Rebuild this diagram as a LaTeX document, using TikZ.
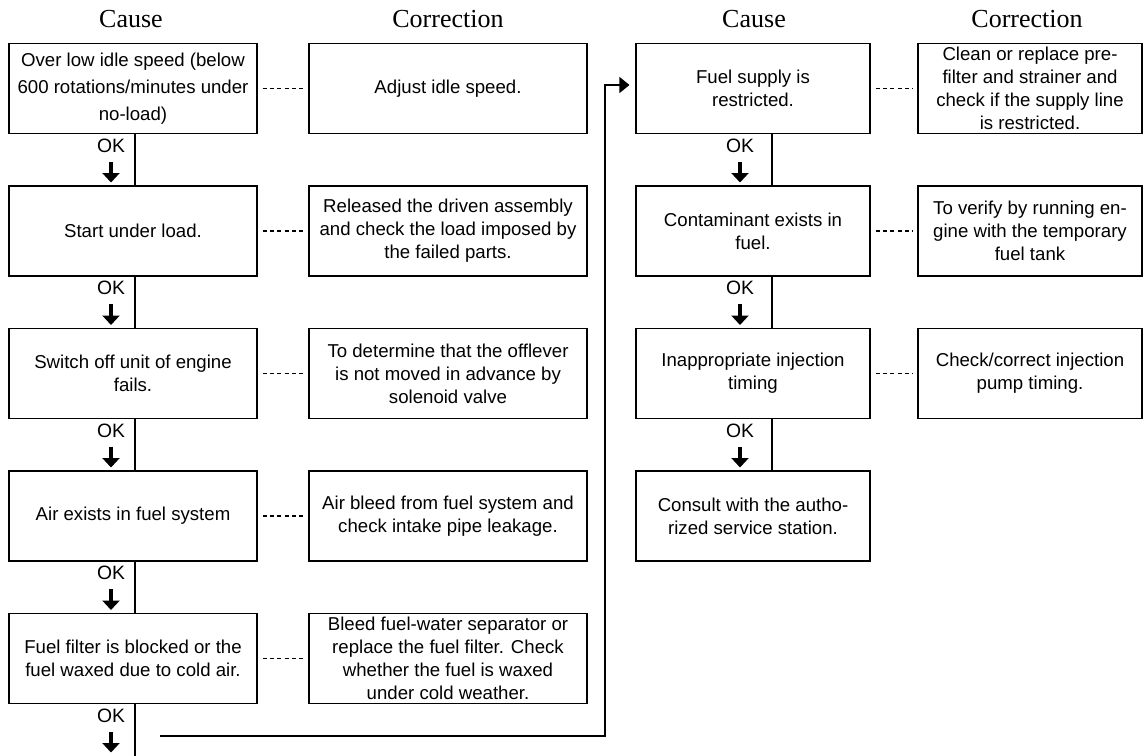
\documentclass[tikz,border=0pt]{standalone}
\usepackage{fontspec}
\setmainfont{Liberation Serif}
\setsansfont{Liberation Sans}
\usetikzlibrary{arrows.meta}

\begin{document}
\begin{tikzpicture}[
  box/.style={draw, line width=0.6pt, minimum width=#1, minimum height=1.8cm,
    inner xsep=2pt, inner ysep=1pt, align=center,
    font=\sffamily\fontsize{10.6}{13}\selectfont},
  head/.style={anchor=base, font=\fontsize{14.8}{17}\selectfont},
  ok/.style={font=\sffamily\fontsize{11}{12}\selectfont},
  okarrow/.style={line width=0.09cm, -{Triangle[width=0.34cm,length=0.19cm]}},
  flow/.style={line width=0.6pt},
  link/.style={line width=0.75pt, dash pattern=on 2.3pt off 1.9pt,
    shorten <=0.1cm, shorten >=0.08cm}
]

\useasboundingbox (0,0) rectangle (22.9,-15.1);

% Column headings
\node[head] (h1) at (2.62,-0.56) {Cause};
\node[head] (h2) at (8.96,-0.56) {Correction};
\node[head] (h3) at (15.08,-0.56) {Cause};
\node[head] (h4) at (20.54,-0.56) {Correction};

% Left column - causes
\node[box=4.96cm] (lc1) at (2.66,-1.77) {Over low idle speed (below\\[2.5pt]600 rotations/minutes under\\[2.5pt]no-load)};
\node[box=4.96cm] (lc2) at (2.66,-4.62) {Start under load.};
\node[box=4.96cm] (lc3) at (2.66,-7.47) {Switch off unit of engine\\fails.};
\node[box=4.96cm] (lc4) at (2.66,-10.32) {Air exists in fuel system};
\node[box=4.96cm] (lc5) at (2.66,-13.17) {Fuel filter is blocked or the\\fuel waxed due to cold air.};

% Left column - corrections
\node[box=5.56cm] (lf1) at (8.96,-1.77) {Adjust idle speed.};
\node[box=5.56cm] (lf2) at (8.96,-4.62) {Released the driven assembly\\and check the load imposed by\\the failed parts.};
\node[box=5.56cm] (lf3) at (8.96,-7.47) {To determine that the offlever\\is not moved in advance by\\solenoid valve};
\node[box=5.56cm] (lf4) at (8.96,-10.32) {Air bleed from fuel system and\\check intake pipe leakage.};
\node[box=5.56cm] (lf5) at (8.96,-13.17) {Bleed fuel-water separator or\\replace the fuel filter. Check\\whether the fuel is waxed\\under cold weather.};

% Right column - causes
\node[box=4.68cm] (rc1) at (15.06,-1.77) {Fuel supply is\\restricted.};
\node[box=4.68cm] (rc2) at (15.06,-4.62) {Contaminant exists in\\fuel.};
\node[box=4.68cm] (rc3) at (15.06,-7.47) {Inappropriate injection\\timing};
\node[box=4.68cm] (rc4) at (15.06,-10.32) {Consult with the autho-\\rized service station.};

% Right column - corrections
\node[box=4.48cm] (rf1) at (20.6,-1.77) {Clean or replace pre-\\filter and strainer and\\check if the supply line\\is restricted.};
\node[box=4.48cm] (rf2) at (20.6,-4.62) {To verify by running en-\\gine with the temporary\\fuel tank};
\node[box=4.48cm] (rf3) at (20.6,-7.47) {Check/correct injection\\pump timing.};

% Dashed links cause -> correction
\draw[link] (lc1.east) -- (lf1.west);
\draw[link] (lc2.east) -- (lf2.west);
\draw[link] (lc3.east) -- (lf3.west);
\draw[link] (lc4.east) -- (lf4.west);
\draw[link] (lc5.east) -- (lf5.west);
\draw[link] (rc1.east) -- (rf1.west);
\draw[link] (rc2.east) -- (rf2.west);
\draw[link] (rc3.east) -- (rf3.west);

% Left flow line
\draw[flow] ([xshift=0.04cm]lc1.south) -- ([xshift=0.04cm]lc2.north);
\draw[flow] ([xshift=0.04cm]lc2.south) -- ([xshift=0.04cm]lc3.north);
\draw[flow] ([xshift=0.04cm]lc3.south) -- ([xshift=0.04cm]lc4.north);
\draw[flow] ([xshift=0.04cm]lc4.south) -- ([xshift=0.04cm]lc5.north);
\draw[flow] ([xshift=0.04cm]lc5.south) -- ++(0,-1.88);

% Right flow line
\draw[flow] ([xshift=0.38cm]rc1.south) -- ([xshift=0.38cm]rc2.north);
\draw[flow] ([xshift=0.38cm]rc2.south) -- ([xshift=0.38cm]rc3.north);
\draw[flow] ([xshift=0.38cm]rc3.south) -- ([xshift=0.38cm]rc4.north);

% OK marks, left
\node[ok] (lok1) at (2.22,-2.91) {OK};
\node[ok] (lok2) at (2.22,-5.76) {OK};
\node[ok] (lok3) at (2.22,-8.61) {OK};
\node[ok] (lok4) at (2.22,-11.46) {OK};
\node[ok] (lok5) at (2.22,-14.31) {OK};
\draw[okarrow] ([yshift=-0.32cm]lok1.center) -- ++(0,-0.42);
\draw[okarrow] ([yshift=-0.32cm]lok2.center) -- ++(0,-0.42);
\draw[okarrow] ([yshift=-0.32cm]lok3.center) -- ++(0,-0.42);
\draw[okarrow] ([yshift=-0.32cm]lok4.center) -- ++(0,-0.42);
\draw[okarrow] ([yshift=-0.32cm]lok5.center) -- ++(0,-0.42);

% OK marks, right
\node[ok] (rok1) at (14.8,-2.91) {OK};
\node[ok] (rok2) at (14.8,-5.76) {OK};
\node[ok] (rok3) at (14.8,-8.61) {OK};
\draw[okarrow] ([yshift=-0.32cm]rok1.center) -- ++(0,-0.42);
\draw[okarrow] ([yshift=-0.32cm]rok2.center) -- ++(0,-0.42);
\draw[okarrow] ([yshift=-0.32cm]rok3.center) -- ++(0,-0.42);

% Jump from the bottom of the left column to the top of the right one
\coordinate (jump) at (3.2,-14.72);
\draw[flow, -{Triangle[width=0.32cm,length=0.2cm]}, shorten >=0.12cm]
  (jump) -- ++(8.9,0) |- ([yshift=0.07cm]rc1.west);

\end{tikzpicture}
\end{document}
